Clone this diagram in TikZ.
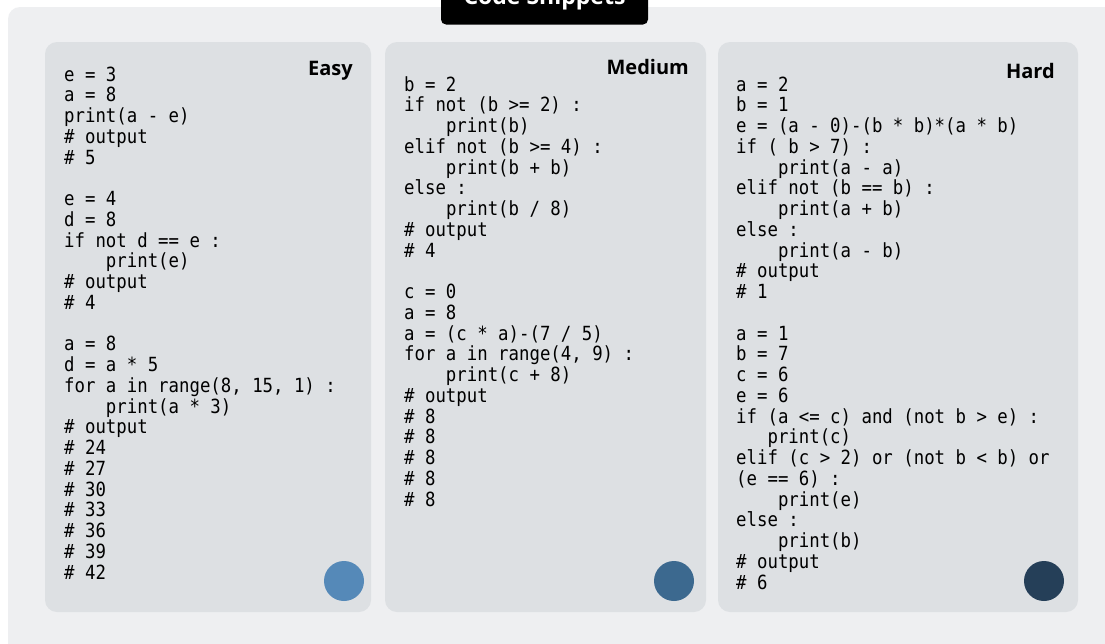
\documentclass[tikz,border=0pt]{standalone}
\usepackage{fontspec}
\setmainfont{Open Sans}
\newfontfamily\codefont{DejaVu Sans Mono}[FakeStretch=0.89]

\definecolor{panelgray}{HTML}{EEEFF1}
\definecolor{cardgray}{HTML}{DDE0E3}
\definecolor{easyblue}{HTML}{5589B8}
\definecolor{mediumblue}{HTML}{3C698F}
\definecolor{harddark}{HTML}{253F58}

\newcommand{\ind}{\hphantom{0000}}
\newcommand{\codestrut}{\rule{0pt}{16pt}}

\tikzset{
    card/.style={fill=cardgray, rounded corners=12pt},
    code/.style={anchor=north west, inner sep=0pt, align=left,
        font=\codefont\fontsize{19.5}{20.75}\selectfont},
    level/.style={anchor=base east, inner sep=0pt,
        font=\bfseries\fontsize{20}{24}\selectfont},
    dot/.style={circle, minimum size=40pt, inner sep=0pt},
}

\begin{document}
\begin{tikzpicture}[x=1pt, y=-1pt]
    \useasboundingbox (0,0) rectangle (1105,643);
    \fill[white] (0,0) rectangle (1105,643);

    % Outer panel and title
    \fill[panelgray, rounded corners=12pt] (8,7) rectangle (1125,663);
    \fill[black, rounded corners=5pt] (441,-20) rectangle (648,24.5);
    \node[anchor=base, inner sep=0pt, text=white,
        font=\bfseries\fontsize{23}{26}\selectfont] (title) at (544.5,4) {Code Snippets};

    % Easy
    \fill[card] (45,42) rectangle (371,612);
    \node[level] (easy) at (353,75) {Easy};
    \node[code] (easycode) at (64,65) {\codestrut e = 3\\
        a = 8\\
        print(a - e)\\
        \# output\\
        \# 5\\
        \mbox{}\\
        e = 4\\
        d = 8\\
        if not d == e :\\
        \ind print(e)\\
        \# output\\
        \# 4\\
        \mbox{}\\
        a = 8\\
        d = a * 5\\
        for a in range(8, 15, 1) :\\
        \ind print(a * 3)\\
        \# output\\
        \# 24\\
        \# 27\\
        \# 30\\
        \# 33\\
        \# 36\\
        \# 39\\
        \# 42};
    \node[dot, fill=easyblue] (easydot) at (344,581) {};

    % Medium
    \fill[card] (385,42) rectangle (706,612);
    \node[level] (medium) at (689,74) {Medium};
    \node[code] (mediumcode) at (404,75) {\codestrut b = 2\\
        if not (b >= 2) :\\
        \ind print(b)\\
        elif not (b >= 4) :\\
        \ind print(b + b)\\
        else :\\
        \ind print(b / 8)\\
        \# output\\
        \# 4\\
        \mbox{}\\
        c = 0\\
        a = 8\\
        a = (c * a)-(7 / 5)\\
        for a in range(4, 9) :\\
        \ind print(c + 8)\\
        \# output\\
        \# 8\\
        \# 8\\
        \# 8\\
        \# 8\\
        \# 8};
    \node[dot, fill=mediumblue] (mediumdot) at (674,581) {};

    % Hard
    \fill[card] (718,42) rectangle (1078,612);
    \node[level] (hard) at (1055,78) {Hard};
    \node[code] (hardcode) at (736,75) {\codestrut a = 2\\
        b = 1\\
        e = (a - 0)-(b * b)*(a * b)\\
        if ( b > 7) :\\
        \ind print(a - a)\\
        elif not (b == b) :\\
        \ind print(a + b)\\
        else :\\
        \ind print(a - b)\\
        \# output\\
        \# 1\\
        \mbox{}\\
        a = 1\\
        b = 7\\
        c = 6\\
        e = 6\\
        if (a <= c) and (not b > e) :\\
        \hphantom{000}print(c)\\
        elif (c > 2) or (not b < b) or\\
        (e == 6) :\\
        \ind print(e)\\
        else :\\
        \ind print(b)\\
        \# output\\
        \# 6};
    \node[dot, fill=harddark] (harddot) at (1044,581) {};
\end{tikzpicture}
\end{document}
